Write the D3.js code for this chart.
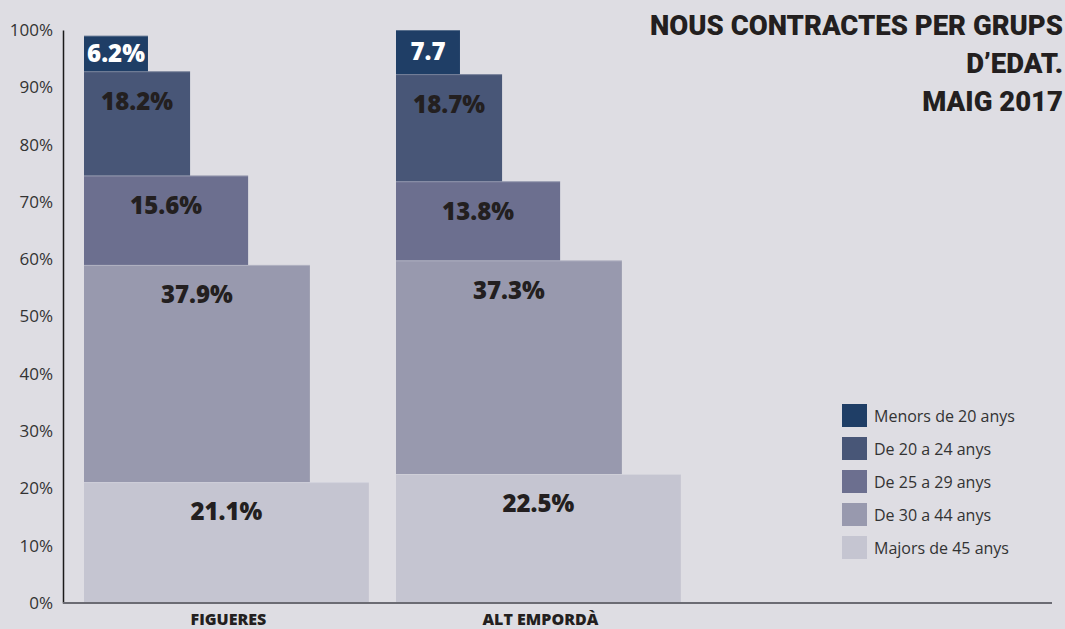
<!DOCTYPE html>
<html>
<head>
<meta charset="utf-8">
<script src="https://cdn.jsdelivr.net/npm/d3@7"></script>
<style>
  body { margin: 0; background: #dedde3; }
  svg { display: block; }
</style>
</head>
<body>
<svg width="1065" height="629"></svg>
<script>
// data
var categories = ["FIGUERES", "ALT EMPORDÀ"];
var groups = ["Majors de 45 anys", "De 30 a 44 anys", "De 25 a 29 anys", "De 20 a 24 anys", "Menors de 20 anys"]; // bottom -> top
var figueres = [21.1, 37.9, 15.6, 18.2, 6.2];
var altEmporda = [22.5, 37.3, 13.8, 18.7, 7.7];
var figueresLabels = ["21.1%", "37.9%", "15.6%", "18.2%", "6.2%"];
var altEmpordaLabels = ["22.5%", "37.3%", "13.8%", "18.7%", "7.7"];
var yTicks = [0, 10, 20, 30, 40, 50, 60, 70, 80, 90, 100];
var titleLines = ["NOUS CONTRACTES PER GRUPS", "D\u2019EDAT.", "MAIG 2017"];

// styles
var colors = ["#c5c5d1", "#9899ae", "#6c6f8f", "#485677", "#1f3e66"];
var stepWidth = [0.913, 0.724, 0.526, 0.34, 0.205]; // fraction of band per level
var labelColor = ["#231f20", "#231f20", "#231f20", "#231f20", "#ffffff"];

var svg = d3.select("svg");

var rows = categories.map((c, i) => {
  var vals = i === 0 ? figueres : altEmporda;
  var labs = i === 0 ? figueresLabels : altEmpordaLabels;
  var r = { cat: c, labels: labs };
  groups.forEach((g, j) => r[g] = vals[j]);
  return r;
});

var x = d3.scaleBand().domain(categories).range([84, 708]).paddingInner(0).paddingOuter(0),
  y = d3.scaleLinear().domain([0, 100]).range([603, 30]);

var series = d3.stack().keys(groups)(rows);
var bw = x.bandwidth();

var layer = svg.selectAll(".layer")
  .data(series)
  .enter().append("g")
  .attr("class", "layer")
  .style("fill", (d, i) => colors[i]);

layer.selectAll("rect")
  .data(d => d)
  .enter().append("rect")
  .attr("x", d => x(d.data.cat))
  .attr("y", d => y(d[1]))
  .attr("height", d => y(d[0]) - y(d[1]))
  .attr("width", function (d) {
    var i = groups.indexOf(d3.select(this.parentNode).datum().key);
    return bw * stepWidth[i];
  });

// thin light edge on top of each segment
layer.selectAll("line")
  .data(d => d)
  .enter().append("line")
  .attr("x1", d => x(d.data.cat))
  .attr("x2", function (d) {
    var i = groups.indexOf(d3.select(this.parentNode).datum().key);
    return x(d.data.cat) + bw * stepWidth[i];
  })
  .attr("y1", d => y(d[1]) + 0.5)
  .attr("y2", d => y(d[1]) + 0.5)
  .attr("stroke", "#ffffff")
  .attr("stroke-opacity", 0.25);

// segment labels
series.forEach((s, i) => {
  svg.append("g").selectAll("text")
    .data(s)
    .enter().append("text")
    .attr("x", d => x(d.data.cat) + bw * stepWidth[i] / 2)
    .attr("y", d => i === groups.length - 1 ? (y(d[0]) + y(d[1])) / 2 : y(d[1]) + 30)
    .attr("dy", ".35em")
    .attr("text-anchor", "middle")
    .style("font", "800 24px 'Open Sans'")
    .style("fill", labelColor[i])
    .text(d => d.data.labels[i]);
});

// y axis
var yAxis = svg.append("g")
  .attr("transform", "translate(63,0)")
  .call(d3.axisLeft(y).tickValues(yTicks).tickSize(0).tickPadding(10).tickFormat(d => d + "%"));
yAxis.select(".domain").attr("stroke", "#1a1a1a").attr("stroke-width", 1.5);
yAxis.selectAll("text").style("font", "17px 'Open Sans'").style("fill", "#333");

// x axis line
svg.append("line")
  .attr("x1", 63).attr("x2", 1052)
  .attr("y1", 603).attr("y2", 603)
  .attr("stroke", "#6b6b73").attr("stroke-width", 2);

svg.append("g").selectAll("text")
  .data(categories)
  .enter().append("text")
  .attr("x", d => x(d) + bw * stepWidth[0] / 2 + 2)
  .attr("y", 625)
  .attr("text-anchor", "middle")
  .style("font", "800 16px 'Open Sans'")
  .style("fill", "#231f20")
  .text(d => d);

// title
svg.append("g").selectAll("text")
  .data(titleLines)
  .enter().append("text")
  .attr("x", 1063)
  .attr("y", (d, i) => 35 + i * 38)
  .attr("text-anchor", "end")
  .style("font", "900 27.5px Roboto")
  .style("fill", "#231f20")
  .text(d => d);

// legend (top -> bottom)
var legend = svg.append("g").attr("transform", "translate(842,404)")
  .selectAll("g")
  .data(groups.slice().reverse())
  .enter().append("g")
  .attr("transform", (d, i) => `translate(0,${i * 33})`);

legend.append("rect")
  .attr("width", 25).attr("height", 23)
  .style("fill", (d, i) => colors[groups.length - 1 - i]);

legend.append("text")
  .attr("x", 32).attr("y", 12)
  .attr("dy", ".35em")
  .style("font", "16px 'Open Sans'")
  .style("fill", "#333")
  .text(d => d);
</script>
</body>
</html>
